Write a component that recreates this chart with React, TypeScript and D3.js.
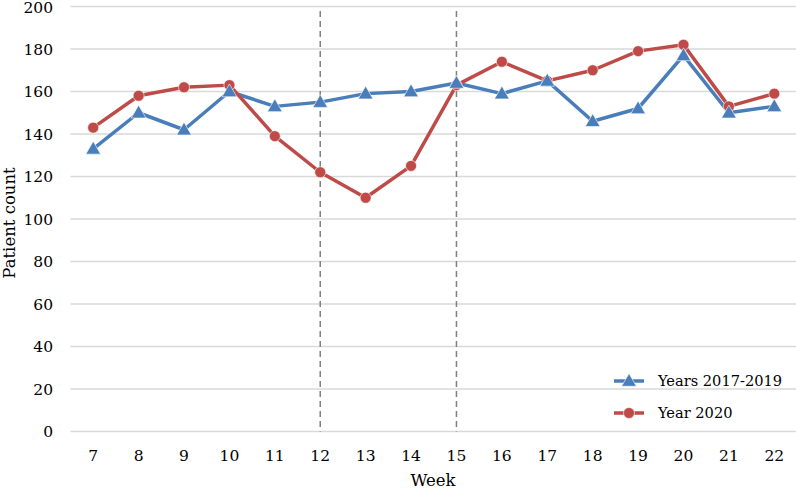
import React from "react";
import * as d3 from "d3";

const weeks = [7, 8, 9, 10, 11, 12, 13, 14, 15, 16, 17, 18, 19, 20, 21, 22];
const years2017_2019 = [133, 150, 142, 160, 153, 155, 159, 160, 164, 159, 165, 146, 152, 177, 150, 153];
const year2020 = [143, 158, 162, 163, 139, 122, 110, 125, 163, 174, 165, 170, 179, 182, 153, 159];
const yTicks = [0, 20, 40, 60, 80, 100, 120, 140, 160, 180, 200];
const markerWeeks = [12, 15];

const W = 796;
const H = 489;
const left = 70.5;
const right = 797;
const top = 6.5;
const bottom = 431.5;
const BLUE = "#4A7EBB";
const RED = "#BE4B48";
const FONT = "'DejaVu Serif', serif";

export default function App() {
  const x = d3.scaleBand<number>().domain(weeks).range([left, right]).padding(0);
  const cx = (w: number) => (x(w) as number) + x.bandwidth() / 2;
  const y = d3.scaleLinear().domain([0, 200]).range([bottom, top]);

  const line = d3
    .line<number>()
    .x((_, i) => cx(weeks[i]))
    .y((v) => y(v));

  const tri = d3.symbol().type(d3.symbolTriangle).size(95)();

  return (
    <svg width={W} height={H} style={{ position: "absolute", left: 0, top: 0 }}>
      <rect width={W} height={H} fill="#fff" />
      {yTicks.map((t) => (
        <g key={t}>
          <line x1={left} x2={right} y1={y(t)} y2={y(t)} stroke="#d9d9d9" strokeWidth={1.5} />
          <text x={53} y={y(t) + (t === 200 ? 1 : 0)} dy="0.36em" textAnchor="end" fontFamily={FONT} fontSize={15.5} fill="#000">
            {t}
          </text>
        </g>
      ))}
      {weeks.map((w) => (
        <text key={w} x={cx(w)} y={461} textAnchor="middle" fontFamily={FONT} fontSize={15.5} fill="#000">
          {w}
        </text>
      ))}
      {markerWeeks.map((w) => (
        <line
          key={w}
          x1={cx(w)}
          x2={cx(w)}
          y1={11}
          y2={bottom}
          stroke="#808080"
          strokeWidth={1.5}
          strokeDasharray="6,4"
        />
      ))}
      <path d={line(years2017_2019) || ""} fill="none" stroke={BLUE} strokeWidth={3.5} strokeLinejoin="round" />
      <path d={line(year2020) || ""} fill="none" stroke={RED} strokeWidth={3.5} strokeLinejoin="round" />
      {year2020.map((v, i) => (
        <circle key={"r" + i} cx={cx(weeks[i])} cy={y(v)} r={5.5} fill={RED} stroke="#fff" strokeWidth={0.6} />
      ))}
      {years2017_2019.map((v, i) => (
        <path
          key={"b" + i}
          d={tri || ""}
          transform={`translate(${cx(weeks[i])},${y(v) + 1})`}
          fill={BLUE}
          stroke="#fff"
          strokeWidth={0.6}
        />
      ))}
      <text x={433} y={486} textAnchor="middle" fontFamily={FONT} fontSize={16.5} fill="#000">
        Week
      </text>
      <text
        transform={`translate(15,${(top + bottom) / 2 + 4}) rotate(-90)`}
        textAnchor="middle"
        fontFamily={FONT}
        fontSize={16.5}
        fill="#000"
      >
        Patient count
      </text>
      <g>
        <line x1={614} x2={644} y1={381} y2={381} stroke={BLUE} strokeWidth={3.5} />
        <path d={tri || ""} transform="translate(629,382)" fill={BLUE} stroke="#fff" strokeWidth={0.6} />
        <text x={658} y={381} dy="0.36em" fontFamily={FONT} fontSize={14.6} fill="#000">
          Years 2017-2019
        </text>
        <line x1={614} x2={644} y1={413} y2={413} stroke={RED} strokeWidth={3.5} />
        <circle cx={629} cy={413} r={5.5} fill={RED} stroke="#fff" strokeWidth={0.6} />
        <text x={658} y={413} dy="0.36em" fontFamily={FONT} fontSize={14.6} fill="#000">
          Year 2020
        </text>
      </g>
    </svg>
  );
}
